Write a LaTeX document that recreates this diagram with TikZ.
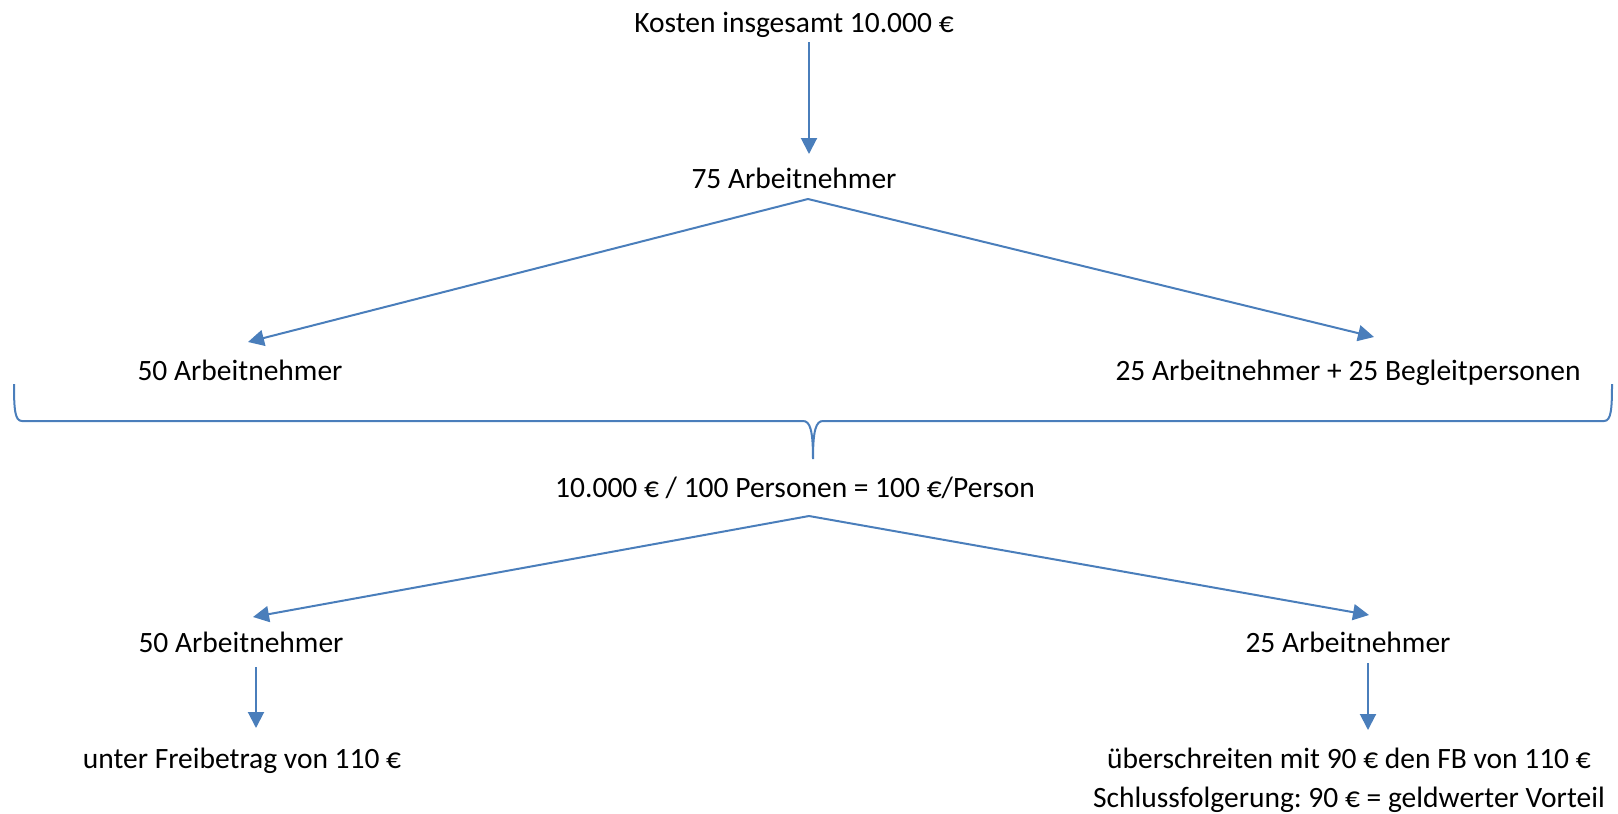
\documentclass[tikz,border=0pt]{standalone}
\usepackage{fontspec}
\setmainfont{Carlito}
\usepackage{tikz}
\usetikzlibrary{arrows.meta}
\definecolor{wordblue}{RGB}{74,126,187}
\frenchspacing

\begin{document}
\begin{tikzpicture}[x=0.5pt, y=-0.5pt,
    lbl/.style={font=\fontsize{14.75}{19.5}\selectfont, inner sep=0pt, anchor=base},
    arr/.style={draw=wordblue, line width=1pt, -{Triangle[length=8pt,width=8pt]}},
    brace/.style={draw=wordblue, line width=1pt}]

    \useasboundingbox (0,0) rectangle (1618,814);

    \node[lbl] (kosten) at (794,32) {Kosten insgesamt 10.000 €};
    \node[lbl] (an75) at (794,188) {75 Arbeitnehmer};
    \node[lbl] (an50a) at (240,380) {50 Arbeitnehmer};
    \node[lbl] (an25a) at (1348,380) {25 Arbeitnehmer + 25 Begleitpersonen};
    \node[lbl] (properson) at (795,497) {10.000 € / 100 Personen = 100 €/Person};
    \node[lbl] (an50b) at (241,652) {50 Arbeitnehmer};
    \node[lbl] (an25b) at (1348,652) {25 Arbeitnehmer};
    \node[lbl] (frei) at (242,768) {unter Freibetrag von 110 €};
    \node[lbl, align=center] (vorteil) at (1349,807) {überschreiten mit 90 € den FB von 110 €\\Schlussfolgerung: 90 € = geldwerter Vorteil};

    \draw[arr] ([shift={(7.5pt,-5pt)}]kosten.base) -- ([shift={(7.5pt,17pt)}]an75.base);
    \draw[arr] ([shift={(7pt,-5.5pt)}]an75.base) -- ([shift={(4pt,19pt)}]an50a.base);
    \draw[arr] ([shift={(7pt,-5.5pt)}]an75.base) -- ([shift={(13pt,21.5pt)}]an25a.base);

    \draw[brace] (14,384) .. controls (14,410) and (15,421) .. (22,421) -- (803,421)
        .. controls (810,421) and (813,430) .. (813,459)
        .. controls (813,430) and (816,421) .. (823,421) -- (1604,421)
        .. controls (1611,421) and (1612,410) .. (1612,384);

    \draw[arr] ([shift={(7pt,-9.5pt)}]properson.base) -- ([shift={(6pt,17.5pt)}]an50b.base);
    \draw[arr] ([shift={(7pt,-9.5pt)}]properson.base) -- ([shift={(10.5pt,18.5pt)}]an25b.base);
    \draw[arr] ([shift={(7.5pt,-7.5pt)}]an50b.base) -- ([shift={(7pt,20pt)}]frei.base);
    \draw[arr] ([shift={(10pt,-5.5pt)}]an25b.base) -- ([shift={(9.5pt,38.5pt)}]vorteil.base);
\end{tikzpicture}
\end{document}
